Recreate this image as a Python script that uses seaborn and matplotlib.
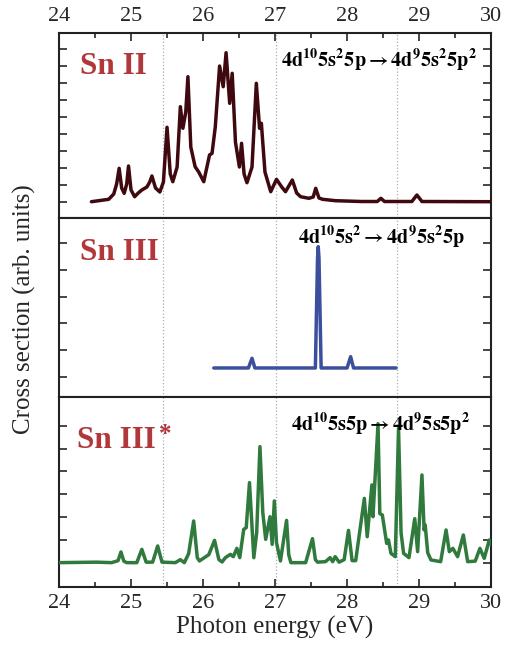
import numpy as np
import pandas as pd
import matplotlib
matplotlib.use("Agg")
import matplotlib.pyplot as plt
from matplotlib.ticker import MultipleLocator
import seaborn as sns

# ---------------- data ----------------
sn2_energy = [24.45, 24.69, 24.76, 24.80, 24.835, 24.87, 24.905, 24.94, 24.965, 25.00, 25.05, 25.10,
              25.15, 25.22, 25.26, 25.29, 25.34, 25.40, 25.45, 25.50, 25.545, 25.58, 25.64, 25.685,
              25.72, 25.76, 25.79, 25.83, 25.89, 25.94, 26.01, 26.09, 26.125, 26.17, 26.23, 26.28,
              26.32, 26.37, 26.405, 26.45, 26.505, 26.535, 26.57, 26.61, 26.68, 26.74, 26.785, 26.81,
              26.86, 26.94, 27.02, 27.09, 27.145, 27.24, 27.30, 27.355, 27.47, 27.53, 27.565, 27.61,
              27.66, 27.84, 28.20, 28.42, 28.47, 28.52, 28.90, 28.97, 29.04, 30.00]
sn2_value = [0.3, 2.7, 8, 18, 33.7, 14, 8.7, 18, 36, 12, 5.3, 9,
             12, 15, 20, 26, 14, 10, 20, 74.7, 28, 20.3, 35, 95.3,
             73.7, 90, 125.3, 55, 35.3, 30, 20.3, 47, 48.7, 75, 136, 115.3,
             149.3, 98.7, 128.7, 60, 35, 58.7, 28, 19.3, 35, 118.7, 73.7, 78.7,
             30, 10.3, 22.7, 15.3, 10.3, 22, 9, 5.3, 3.7, 5, 13.7, 4,
             2.7, 1.3, 0.5, 0.5, 3.7, 0.5, 0.5, 7, 0.5, 0.3]

sn3_energy = [26.15, 26.63, 26.68, 26.72, 27.56, 27.59, 27.60, 27.61, 27.64, 28.00, 28.05, 28.09, 28.68]
sn3_value = [0, 0, 9.7, 0, 0, 110, 121.3, 110, 0, 0, 11.3, 0, 0]

sn3x_energy = [24.00, 24.52, 24.73, 24.82, 24.86, 24.90, 24.94, 25.08, 25.15, 25.21, 25.30, 25.37,
               25.43, 25.615, 25.685, 25.74, 25.80, 25.87, 25.92, 25.95, 26.08, 26.16, 26.22, 26.265,
               26.31, 26.38, 26.42, 26.47, 26.51, 26.565, 26.60, 26.645, 26.705, 26.745, 26.79, 26.83,
               26.87, 26.93, 26.96, 26.99, 27.02, 27.075, 27.16, 27.19, 27.22, 27.425, 27.52, 27.56,
               27.59, 27.70, 27.765, 27.80, 27.835, 27.89, 27.96, 28.02, 28.07, 28.12, 28.24, 28.28,
               28.345, 28.36, 28.385, 28.43, 28.455, 28.49, 28.55, 28.575, 28.61, 28.67, 28.715, 28.75,
               28.785, 28.86, 28.94, 28.98, 29.04, 29.07, 29.085, 29.12, 29.165, 29.30, 29.375, 29.42,
               29.47, 29.535, 29.615, 29.675, 29.78, 29.845, 29.905, 29.975, 30.00]
sn3x_value = [0, 0.5, 0, 2, 10.7, 1.5, 0, 0, 13.3, 0.5, 0.5, 16.7,
              0.5, 0, 3, 0, 9, 41.7, 5, 1.7, 8, 22.3, 3, 0.7,
              5, 8.3, 6, 14.3, 5, 33.3, 35, 80, 5, 30, 116, 50,
              23.3, 46, 18.3, 61.7, 20, 1.7, 42.3, 8, 0, 0, 24, 3,
              0.5, 1, 5, 1, 6, 0.5, 3, 32.3, 2, 2, 64.3, 26,
              77.7, 46, 79, 139, 49, 47.7, 19.3, 22.7, 9.3, 6, 134.3, 30,
              9.3, 5, 44, 11, 87.7, 32.7, 37.7, 10, 2.7, 1, 32.7, 11,
              14.3, 6, 27.7, 1, 1.5, 14.3, 4.3, 22.7, 18]

panel_labels = ["Sn II", "Sn III", "Sn III"]
transitions = [r"$\mathbf{4d^{10}5s^{2}5p \rightarrow 4d^{9}5s^{2}5p^{2}}$",
               r"$\mathbf{4d^{10}5s^{2} \rightarrow 4d^{9}5s^{2}5p}$",
               r"$\mathbf{4d^{10}5s5p \rightarrow 4d^{9}5s5p^{2}}$"]
guide_energies = [25.44, 27.02, 28.69]
x_ticks = [24, 25, 26, 27, 28, 29, 30]

# ---------------- style ----------------
sns.set_style("ticks")
plt.rcParams["font.family"] = ["Liberation Serif", "DejaVu Serif"]
plt.rcParams["mathtext.fontset"] = "stix"

colors = ["#3f0a0f", "#3b4f9c", "#2f7a3c"]
label_color = "#b2373a"

fig = plt.figure(figsize=(5.11, 6.45), dpi=100)
gs = fig.add_gridspec(3, 1, height_ratios=[185, 179, 190], hspace=0,
                      left=0.1155, right=0.961, top=0.9488, bottom=0.09)
axes = [fig.add_subplot(gs[i]) for i in range(3)]

datasets = [
    pd.DataFrame({"E": sn2_energy, "I": sn2_value}),
    pd.DataFrame({"E": sn3_energy, "I": sn3_value}),
    pd.DataFrame({"E": sn3x_energy, "I": sn3x_value}),
]
ylims = [(-16, 169), (-29, 150), (-24.3, 165.7)]
yticks = [np.arange(0, 154, 17.0),
          [-9 + 26.8 * k for k in range(6)],
          [22.8 * k for k in range(7)]]
label_pos = [(24.29, 136), (24.29, 115), (24.25, 122)]
trans_pos = [(28.44, 142), (28.48, 131), (28.46, 139)]

for i, ax in enumerate(axes):
    for g in guide_energies:
        ax.axvline(g, color="#a9aec0", lw=0.9, ls=":", zorder=0)
    sns.lineplot(data=datasets[i], x="E", y="I", ax=ax, color=colors[i], lw=2.5,
                 sort=False, estimator=None, zorder=3)
    ax.set_xlim(24, 30)
    ax.set_ylim(*ylims[i])
    ax.set_yticks(yticks[i])
    ax.set_xlabel("")
    ax.set_ylabel("")
    ax.tick_params(axis="y", which="both", direction="in", left=True, right=True,
                   labelleft=False, length=6, width=1.2)
    ax.set_xticks(x_ticks)
    ax.xaxis.set_minor_locator(MultipleLocator(0.5))
    ax.tick_params(axis="x", which="both", direction="in", width=1.2,
                   top=(i == 0), bottom=(i == 2), labeltop=(i == 0), labelbottom=(i == 2),
                   labelsize=16, pad=5)
    ax.tick_params(axis="x", which="major", length=6)
    ax.tick_params(axis="x", which="minor", length=3.5)
    for s in ax.spines.values():
        s.set_visible(True)
        s.set_linewidth(1.5)
        s.set_color("#222222")
    ax.text(*label_pos[i], panel_labels[i], color=label_color, fontsize=22.5,
            fontweight="bold", ha="left", va="center", zorder=5)
    ax.text(*trans_pos[i], transitions[i], color="black", fontsize=14.5,
            ha="center", va="center", zorder=5)

axes[2].text(25.48, 128, "*", color=label_color, fontsize=18, fontweight="bold",
             ha="center", va="center")

axes[2].set_xlabel("Photon energy (eV)", fontsize=18, labelpad=2)
fig.text(0.048, 0.52, "Cross section (arb. units)", rotation=90, fontsize=18,
         ha="center", va="center")

fig.savefig("out.png", dpi=100)
